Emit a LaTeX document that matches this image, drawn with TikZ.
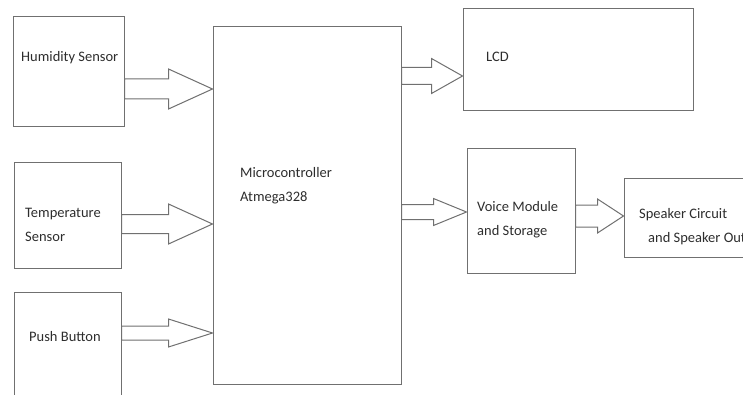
\documentclass[tikz,border=0pt]{standalone}
\usepackage{fontspec}
\setmainfont{Carlito}
\usepackage{tikz}
\usetikzlibrary{calc}
\definecolor{edgegray}{RGB}{112,112,112}
\definecolor{txtgray}{RGB}{45,45,45}

\begin{document}
\begin{tikzpicture}[x=1pt,y=1pt,
  blk/.style={draw=edgegray,line width=1pt,rectangle,inner sep=0pt},
  lbl/.style={anchor=west,inner sep=0pt,align=left,text=txtgray,font=\fontsize{14.5}{24}\selectfont},
  fat/.style={draw=edgegray,line width=1pt,fill=white,line join=miter}]
\useasboundingbox (0,0) rectangle (743,394);
\clip (0,0) rectangle (743,394);
% inputs
\node[blk,minimum width=111pt,minimum height=110pt] (hum) at (68.5,322) {};
\node[blk,minimum width=107pt,minimum height=105pt] (temp) at (67.5,178.5) {};
\node[blk,minimum width=107pt,minimum height=113pt] (push) at (67.5,45.5) {};
% controller
\node[blk,minimum width=188pt,minimum height=357pt] (mic) at (307,188.5) {};
% outputs
\node[blk,minimum width=230pt,minimum height=102pt] (lcd) at (578,334) {};
\node[blk,minimum width=108pt,minimum height=124pt] (voice) at (521,183) {};
\node[blk,minimum width=146pt,minimum height=79pt] (spk) at (697,176.5) {};
% block arrows: from/to/y/head length/shaft half/head half
\foreach \fr/\tg/\yc/\hl/\sw/\hw in {hum/mic/305/44/10/20, temp/mic/170/44/9.5/20, push/mic/61/44/7/14,
  mic/lcd/318/31/8.5/17.5, mic/voice/182/33/7.5/13.5, voice/spk/178/26/11/17}
  \draw[fat] let \p1=(\fr.east), \p2=(\tg.west) in (\x1,\yc+\sw) -- (\x2-\hl,\yc+\sw) -- (\x2-\hl,\yc+\hw) -- (\x2,\yc)
    -- (\x2-\hl,\yc-\hw) -- (\x2-\hl,\yc-\sw) -- (\x1,\yc-\sw) -- cycle;
% labels
\node[lbl] (humt) at (21,336) {Humidity Sensor};
\node[lbl] (tempt) at (25,169) {Temperature\\Sensor};
\node[lbl] (pusht) at (29,57) {Push Button};
\node[lbl] (mict) at (240,208.5) {Microcontroller\\Atmega328};
\node[lbl] (lcdt) at (486,337) {LCD};
\node[lbl] (voicet) at (477,174) {Voice Module\\and Storage};
\node[lbl] (spkt) at (639,167) {Speaker Circuit\\\hspace*{9pt}and Speaker Out};
\end{tikzpicture}
\end{document}
